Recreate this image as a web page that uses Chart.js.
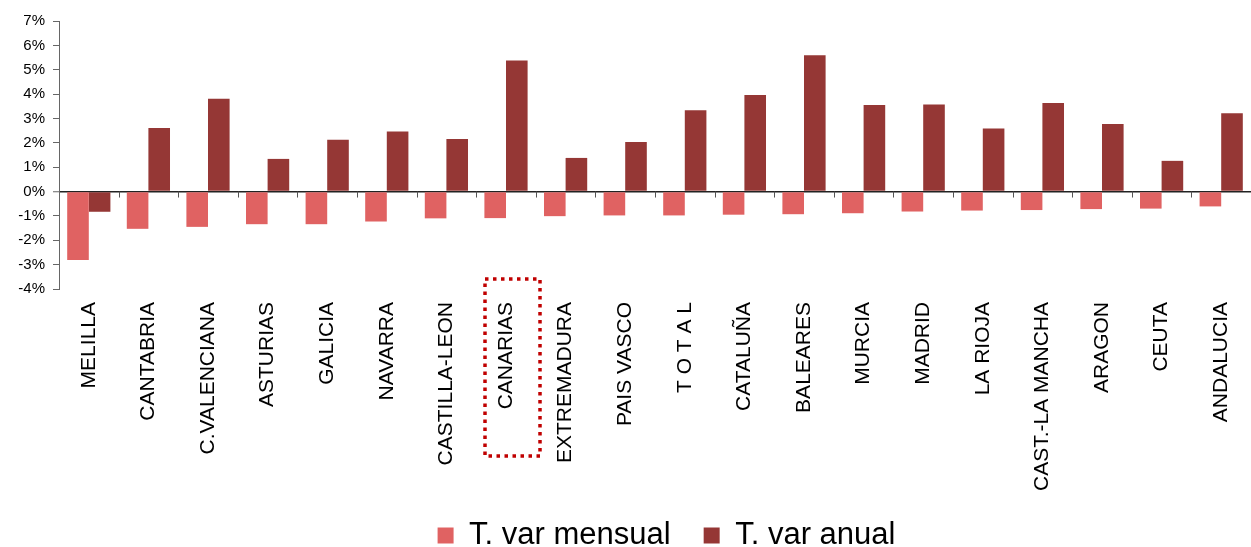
<!DOCTYPE html>
<html lang="es">
<head>
<meta charset="utf-8">
<title>Tasa de variación por comunidades</title>
<script src="https://cdn.jsdelivr.net/npm/chart.js@4.4.1/dist/chart.umd.min.js"></script>
<style>
  html, body { margin: 0; padding: 0; background: #fff; }
  #wrap { width: 1251px; height: 547px; }
</style>
</head>
<body>
<div id="wrap"><canvas id="varChart" width="1251" height="547"></canvas></div>
<script>
// Tasas de variación por comunidad (%)
const comunidades = ['MELILLA', 'CANTABRIA', 'C.VALENCIANA', 'ASTURIAS', 'GALICIA', 'NAVARRA',
  'CASTILLA-LEON', 'CANARIAS', 'EXTREMADURA', 'PAIS VASCO', 'T O T A L', 'CATALUÑA',
  'BALEARES', 'MURCIA', 'MADRID', 'LA RIOJA', 'CAST.-LA MANCHA', 'ARAGON', 'CEUTA', 'ANDALUCIA'];
const varMensual = [-2.81, -1.53, -1.45, -1.34, -1.34, -1.23, -1.10, -1.09, -1.01, -0.98,
  -0.98, -0.95, -0.93, -0.89, -0.82, -0.78, -0.76, -0.72, -0.70, -0.61];
const varAnual = [-0.83, 2.61, 3.81, 1.34, 2.13, 2.46, 2.16, 5.38, 1.38, 2.03,
  3.34, 3.96, 5.59, 3.55, 3.57, 2.59, 3.63, 2.77, 1.26, 3.21];
const destacada = 'CANARIAS';

// marcas del eje de categorías sobre la línea del 0 + recuadro punteado
const extrasPlugin = {
  id: 'extras',
  afterLayout(chart) {
    // la leyenda original está algo desplazada a la derecha
    chart.legend.left += 41;
    chart.legend.right += 41;
    // que las etiquetas largas no se recorten en el borde del eje
    chart.scales.x.bottom = chart.height;
  },
  afterDatasetsDraw(chart) {
    const {ctx, chartArea, scales: {x, y}} = chart;
    const y0 = y.getPixelForValue(0);
    const paso = (chartArea.right - chartArea.left) / comunidades.length;
    ctx.save();
    ctx.strokeStyle = '#555';
    ctx.lineWidth = 1;
    ctx.beginPath();
    for (let i = 1; i <= comunidades.length; i++) {
      const px = Math.round(x.getPixelForValue(i) - paso / 2) + 0.5;
      ctx.moveTo(px, y0);
      ctx.lineTo(px, y0 + 6);
    }
    ctx.stroke();

    const cx = x.getPixelForValue(comunidades.indexOf(destacada));
    ctx.strokeStyle = '#C00000';
    ctx.lineWidth = 3.5;
    ctx.setLineDash([3.5, 4.5]);
    ctx.strokeRect(cx - 21, chartArea.bottom - 10, 55, 177);
    ctx.restore();
  }
};

const ctx = document.getElementById('varChart').getContext('2d');
new Chart(ctx, {
  type: 'bar',
  data: {
    labels: comunidades,
    datasets: [
      { label: 'T. var mensual', data: varMensual, backgroundColor: '#E06262', borderWidth: 0 },
      { label: 'T. var anual', data: varAnual, backgroundColor: '#953735', borderWidth: 0 }
    ]
  },
  options: {
    responsive: false,
    animation: false,
    categoryPercentage: 0.725,
    barPercentage: 1.0,
    layout: { padding: { top: 21, left: 0, right: 0, bottom: -14 } },
    plugins: {
      tooltip: { enabled: false },
      legend: {
        position: 'bottom',
        labels: {
          boxWidth: 16,
          boxHeight: 16,
          padding: 33,
          color: '#000',
          font: { family: 'Liberation Sans, Arial, sans-serif', size: 31 }
        }
      }
    },
    scales: {
      x: {
        grid: { display: false, drawTicks: false },
        border: { display: false },
        ticks: {
          autoSkip: false,
          maxRotation: 90,
          minRotation: 90,
          padding: 13,
          color: '#000',
          font: { family: 'Liberation Sans, Arial, sans-serif', size: 21 }
        },
        afterFit(s) {
          s.height = 198;
          s.paddingLeft = 0;
          s.paddingRight = 0;
        }
      },
      y: {
        min: -4,
        max: 7,
        border: { display: true, color: '#666', width: 1 },
        grid: {
          color: c => c.tick.value === 0 ? '#222' : 'rgba(0,0,0,0)',
          lineWidth: c => c.tick.value === 0 ? 1.5 : 1,
          tickColor: '#666',
          tickWidth: 1,
          tickLength: 6
        },
        ticks: {
          stepSize: 1,
          padding: 8,
          color: '#000',
          font: { family: 'Liberation Sans, Arial, sans-serif', size: 15 },
          callback: v => v + '%'
        },
        afterFit(s) { s.width = 59; }
      }
    }
  },
  plugins: [extrasPlugin]
});
</script>
</body>
</html>
